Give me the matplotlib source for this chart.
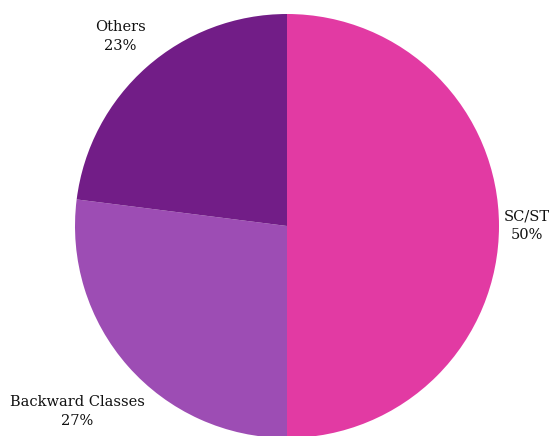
import matplotlib
matplotlib.use("Agg")
import matplotlib.pyplot as plt
import numpy as np

categories = ["SC/ST", "Backward Classes", "Others"]
values = [50, 27, 23]
colors = ["#E23AA3", "#9D4DB4", "#721D87"]
label_dist = [1.13, 1.32, 1.19]

W, H = 551, 436
fig = plt.figure(figsize=(W / 100, H / 100), dpi=100)
cx, cy, r = 287, 226, 212
ax = fig.add_axes([(cx - r) / W, (H - cy - r) / H, 2 * r / W, 2 * r / H])
wedges, _ = ax.pie(values, colors=colors, startangle=90, counterclock=False,
                   radius=1, wedgeprops=dict(linewidth=0))
ax.set_xlim(-1, 1)
ax.set_ylim(-1, 1)
ax.set_aspect("equal")
ax.axis("off")

for w, cat, v, d in zip(wedges, categories, values, label_dist):
    ang = np.deg2rad((w.theta1 + w.theta2) / 2)
    ax.text(d * np.cos(ang), d * np.sin(ang), f"{cat}\n{v}%", ha="center", va="center",
            fontsize=10.5, family="DejaVu Serif", color="#111111", linespacing=1.45,
            fontweight="medium", clip_on=False)

fig.savefig("out.png", dpi=100)
